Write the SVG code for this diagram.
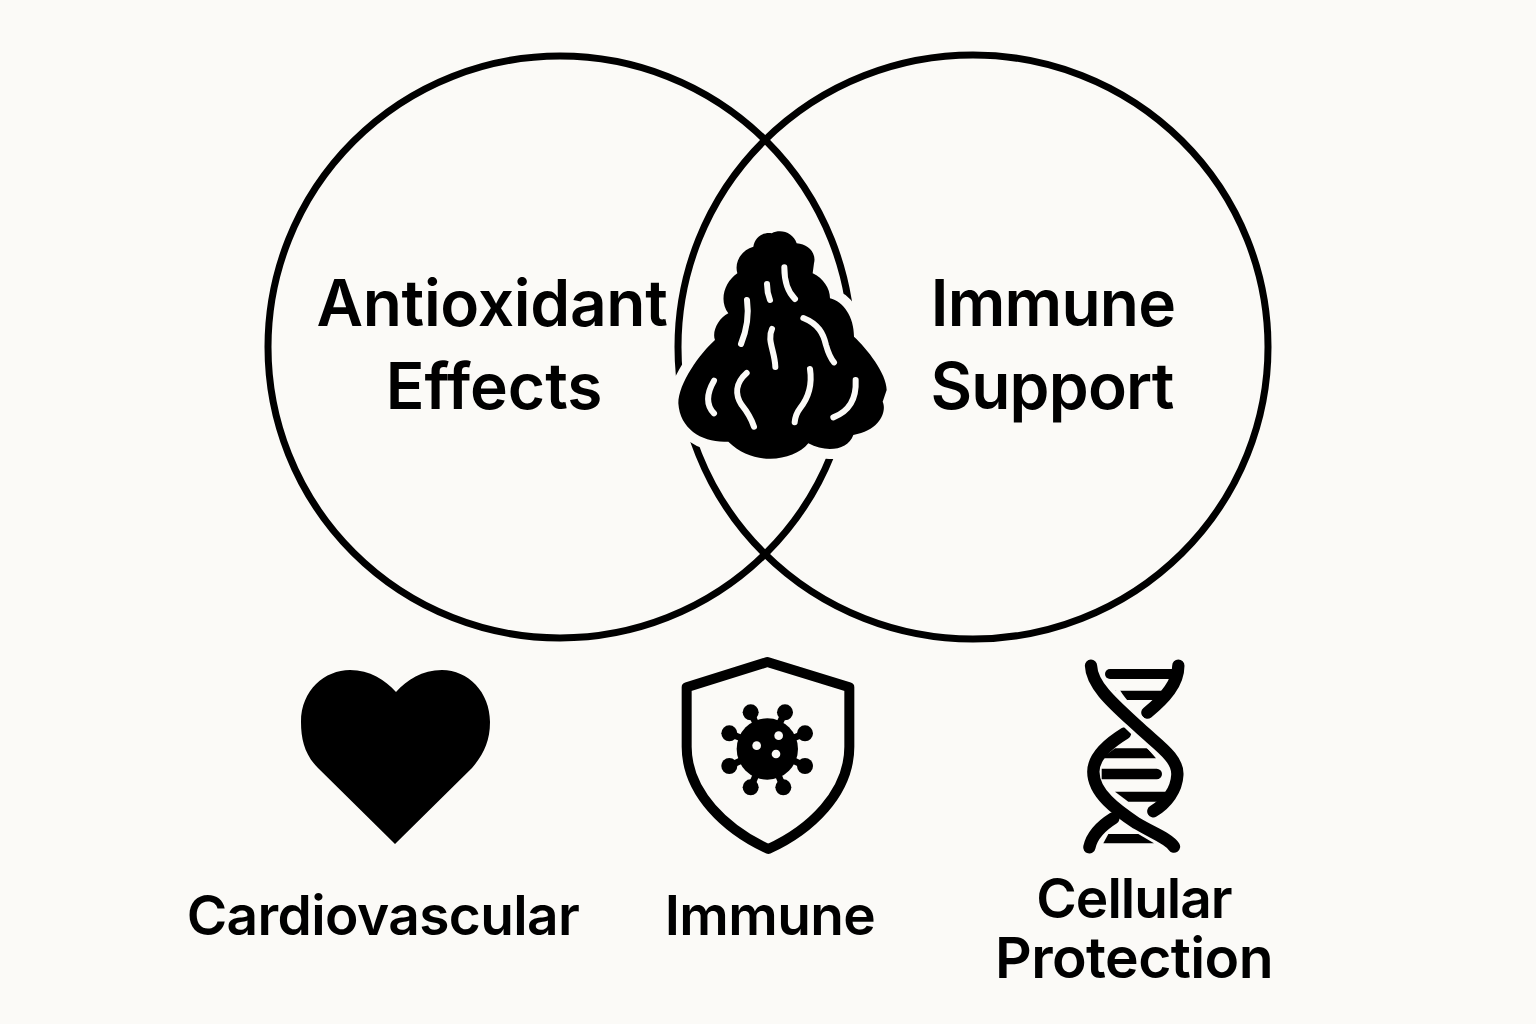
<svg xmlns="http://www.w3.org/2000/svg" width="1536" height="1024" viewBox="0 0 1536 1024">
<style>
.t{font-family:"Inter","Liberation Sans",sans-serif;font-weight:600;fill:#000;text-anchor:middle}
.big{font-size:64px;letter-spacing:-.3px}.small{font-size:55px;letter-spacing:-.6px}
.ring{fill:none;stroke:#000;stroke-width:7}
.vein{fill:none;stroke:#fbfaf7;stroke-width:18;stroke-linecap:round;stroke-linejoin:round}
.strand{fill:none;stroke:#000;stroke-width:37;stroke-linecap:round}
.halo{fill:none;stroke:#fbfaf7;stroke-width:62}
.spike{stroke:#000;stroke-width:20}
</style>
<rect width="1536" height="1024" fill="#fbfaf7"/>
<g id="circle-left"><ellipse class="ring" cx="560" cy="347" rx="292" ry="291"/></g>
<g id="circle-right"><ellipse class="ring" cx="973" cy="347" rx="295" ry="292"/></g>
<g id="center-icon" transform="translate(660 220) scale(.33333)">
<path id="blob" fill="#000" stroke="#fbfaf7" stroke-width="60" stroke-linejoin="round" paint-order="stroke" d="M280 80C285 50 310 36 335 40C365 25 400 40 410 70C445 72 470 100 462 130L458 160C490 175 510 205 510 235C550 245 582 290 582 350C620 385 680 460 680 510L668 545C680 570 665 630 580 645C565 690 500 700 445 670C400 725 280 740 205 665C130 670 60 630 55 550C55 490 120 400 165 360C155 335 175 295 205 280C175 240 195 185 232 160C222 125 245 90 280 80Z"/>
<path class="vein" d="M261 240C268 290 258 335 243 372"/>
<path class="vein" d="M321 192C321 210 324 225 330 240"/>
<path class="vein" d="M373 142C373 180 382 215 405 237"/>
<path class="vein" d="M430 294C475 312 490 340 498 375C505 400 512 415 522 427"/>
<path class="vein" d="M336 327C320 360 345 395 346 441"/>
<path class="vein" d="M162 482C140 520 138 555 162 580"/>
<path class="vein" d="M260 459C225 490 225 525 245 555C265 580 275 600 282 620"/>
<path class="vein" d="M450 447C458 500 440 540 420 565C410 578 405 595 404 607"/>
<path class="vein" d="M587 480C590 540 565 575 520 592"/>
</g>
<g id="label-antioxidant"><text class="t big" x="492" y="326">Antioxidant</text><text class="t big" x="494" y="409" style="letter-spacing:0">Effects</text></g>
<g id="label-immune-support"><text class="t big" x="1053" y="326" style="letter-spacing:-.8px">Immune</text><text class="t big" x="1052" y="409" style="letter-spacing:-.8px">Support</text></g>
<g id="heart-icon"><path fill="#000" d="M395 844L318 768C305 755 301 740 301 722C301 690 325 670 350 670C370 670 385 680 396 692C407 680 422 670 442 670C468 670 490 692 490 722C490 742 483 755 472 768Z"/></g>
<g id="shield-icon" transform="translate(670 650) scale(.33333)">
<path fill="none" stroke="#000" stroke-width="30" stroke-linejoin="round" d="M292 36L50 112V290C50 430 170 540 295 597C420 540 538 430 538 290V112Z"/>
<path class="spike" d="M242 187L292 295M345 187L292 295M405 250L292 295M178 250L292 295M178 348L292 295M405 348L292 295M242 412L292 295M340 412L292 295"/>
<g fill="#000"><circle cx="292" cy="297" r="92"/><circle cx="242" cy="187" r="24"/><circle cx="345" cy="187" r="24"/><circle cx="405" cy="250" r="24"/><circle cx="178" cy="250" r="24"/><circle cx="178" cy="348" r="24"/><circle cx="405" cy="348" r="24"/><circle cx="242" cy="412" r="24"/><circle cx="340" cy="412" r="24"/></g>
<g fill="#fbfaf7"><circle cx="260" cy="287" r="13"/><circle cx="326" cy="257" r="13"/><circle cx="318" cy="312" r="13"/></g>
</g>
<g id="dna-icon" transform="translate(1060 650) scale(.33333)">
<g fill="#000">
<path d="M150 57H345V87H150A15 15 0 0 1 150 57Z"/>
<path d="M165 122H325L300 150H195Z"/>
<path d="M165 295H262L288 325H125Z"/>
<path d="M125 356H290A16 16 0 0 1 290 388H125Z"/>
<path d="M165 425H325L300 455H205Z"/>
<path d="M145 552H235L282 580H130Z"/>
</g>
<path class="strand" d="M160 505C120 530 95 560 88 592"/>
<path class="strand" d="M355 47C355 100 315 145 262 188"/>
<path class="strand" d="M195 250C130 290 100 330 100 365C100 430 170 480 230 520C280 550 325 565 342 590"/>
<path class="halo" d="M150 130C170 170 220 215 240 235C300 290 355 325 352 375"/>
<path class="strand" d="M93 47C95 110 170 170 240 235C300 290 355 325 352 375C350 420 320 460 280 484"/>
</g>
<g id="label-cardiovascular"><text class="t small" x="383" y="935">Cardiovascular</text></g>
<g id="label-immune"><text class="t small" x="770" y="935">Immune</text></g>
<g id="label-cellular"><text class="t small" x="1134" y="918" style="letter-spacing:-1px">Cellular</text><text class="t small" x="1134" y="978" style="font-size:57px">Protection</text></g>
</svg>
